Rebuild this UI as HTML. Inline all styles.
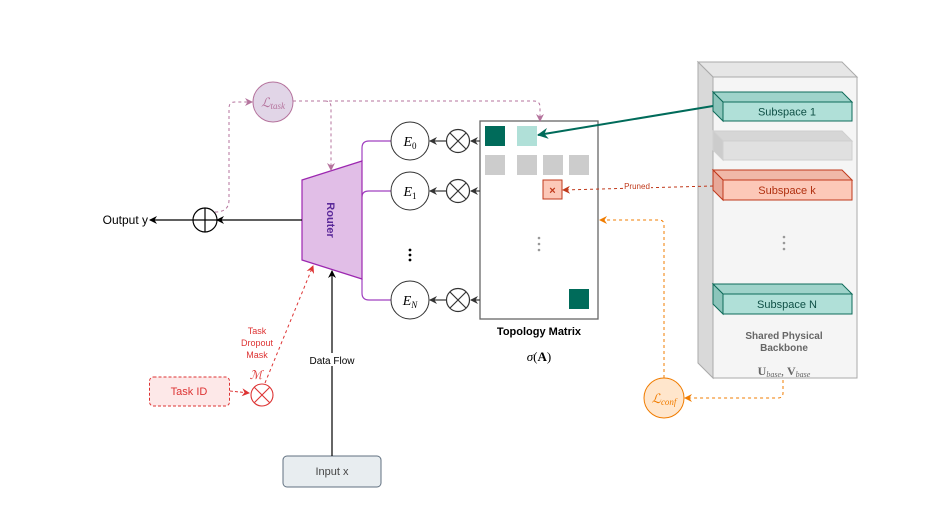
<!DOCTYPE html>
<html><head><meta charset="utf-8"><style>
html,body{margin:0;padding:0;background:#fff;}
svg{display:block;font-family:"Liberation Sans",sans-serif;}
.m{font-family:"Liberation Serif",serif;font-style:italic;}
</style></head><body>
<svg width="947" height="526" viewBox="0 0 947 526" xmlns="http://www.w3.org/2000/svg">
<defs>
<marker id="ak" markerWidth="8" markerHeight="8" refX="7" refY="4" orient="auto" markerUnits="userSpaceOnUse"><path d="M0,0 L8,4 L0,8 L2.5,4z" fill="#000"/></marker>
<marker id="ag" markerWidth="8" markerHeight="8" refX="7" refY="4" orient="auto" markerUnits="userSpaceOnUse"><path d="M0,0 L8,4 L0,8 L2.5,4z" fill="#333"/></marker>
<marker id="ap" markerWidth="8" markerHeight="8" refX="7" refY="4" orient="auto" markerUnits="userSpaceOnUse"><path d="M0,0 L8,4 L0,8 L2.5,4z" fill="#b5739d"/></marker>
<marker id="at" markerWidth="11" markerHeight="11" refX="10" refY="5.5" orient="auto" markerUnits="userSpaceOnUse"><path d="M0,0 L11,5.5 L0,11 L3.5,5.5z" fill="#006b5a"/></marker>
<marker id="ar" markerWidth="8" markerHeight="8" refX="7" refY="4" orient="auto" markerUnits="userSpaceOnUse"><path d="M0,0 L8,4 L0,8 L2.5,4z" fill="#c0391b"/></marker>
<marker id="ar2" markerWidth="8" markerHeight="8" refX="7" refY="4" orient="auto" markerUnits="userSpaceOnUse"><path d="M0,0 L8,4 L0,8 L2.5,4z" fill="#d33"/></marker>
<marker id="ao" markerWidth="8" markerHeight="8" refX="7" refY="4" orient="auto" markerUnits="userSpaceOnUse"><path d="M0,0 L8,4 L0,8 L2.5,4z" fill="#f07c00"/></marker>
</defs>

<!-- Backbone -->
<polygon points="698,62 842,62 857,77 713,77" fill="#e6e6e6" stroke="#aaa"/>
<polygon points="698,62 713,77 713,378 698,363" fill="#d9d9d9" stroke="#aaa"/>
<rect x="713" y="77" width="144" height="301" fill="#f5f5f5" stroke="#aaa"/>
<!-- subspaces -->
<g stroke="#0e6b5a">
<polygon points="713,92 842,92 852,102 723,102" fill="#9fd3ca"/>
<polygon points="713,92 723,102 723,121 713,111" fill="#8cc5bb"/>
<rect x="723" y="102" width="129" height="19" fill="#b0e0d8"/>
</g>
<text x="787" y="115.5" font-size="11" text-anchor="middle" fill="#0e4f45">Subspace 1</text>
<g stroke="#cfcfcf">
<polygon points="713,131 842,131 852,141 723,141" fill="#d6d6d6"/>
<polygon points="713,131 723,141 723,160 713,150" fill="#cccccc"/>
<rect x="723" y="141" width="129" height="19" fill="#e0e0e0"/>
</g>
<g stroke="#c0391b">
<polygon points="713,170 842,170 852,180 723,180" fill="#f0b8a8"/>
<polygon points="713,170 723,180 723,200 713,190" fill="#e8a898"/>
<rect x="723" y="180" width="129" height="20" fill="#fcc8b8"/>
</g>
<text x="787" y="194" font-size="11" text-anchor="middle" fill="#b03010">Subspace k</text>
<g fill="#999"><circle cx="784" cy="237" r="1.3"/><circle cx="784" cy="243" r="1.3"/><circle cx="784" cy="249" r="1.3"/></g>
<g stroke="#0e6b5a">
<polygon points="713,284 842,284 852,294 723,294" fill="#9fd3ca"/>
<polygon points="713,284 723,294 723,314 713,304" fill="#8cc5bb"/>
<rect x="723" y="294" width="129" height="20" fill="#b0e0d8"/>
</g>
<text x="787" y="308" font-size="11" text-anchor="middle" fill="#0e4f45">Subspace N</text>
<text x="784" y="339" font-size="10" font-weight="bold" text-anchor="middle" fill="#666">Shared Physical</text>
<text x="784" y="351" font-size="10" font-weight="bold" text-anchor="middle" fill="#666">Backbone</text>
<text x="784" y="375" font-size="12" text-anchor="middle" fill="#666" font-family="Liberation Serif,serif"><tspan font-weight="bold">U</tspan><tspan class="m" font-size="8" dy="2">base</tspan><tspan dy="-2">, </tspan><tspan font-weight="bold">V</tspan><tspan class="m" font-size="8" dy="2">base</tspan></text>

<!-- Topology matrix -->
<rect x="480" y="121" width="118" height="198" fill="#fff" stroke="#666" stroke-width="1.3"/>
<rect x="485" y="126" width="20" height="20" fill="#006b5a"/>
<rect x="517" y="126" width="20" height="20" fill="#b0e0d8"/>
<g fill="#cccccc">
<rect x="485" y="155" width="20" height="20"/><rect x="517" y="155" width="20" height="20"/>
<rect x="543" y="155" width="20" height="20"/><rect x="569" y="155" width="20" height="20"/></g>
<rect x="543" y="180" width="19" height="19" fill="#fcc8b8" stroke="#c0391b"/>
<text x="552.5" y="194" font-size="11" font-weight="bold" text-anchor="middle" fill="#c0391b">×</text>
<g fill="#999"><circle cx="539" cy="238" r="1.3"/><circle cx="539" cy="244" r="1.3"/><circle cx="539" cy="250" r="1.3"/></g>
<rect x="569" y="289" width="20" height="20" fill="#006b5a"/>
<text x="539" y="335" font-size="11" font-weight="bold" text-anchor="middle">Topology Matrix</text>
<text x="539" y="361" font-size="13" text-anchor="middle" font-family="Liberation Serif,serif"><tspan font-style="italic">σ</tspan>(<tspan font-weight="bold">A</tspan>)</text>

<!-- teal arrow -->
<line x1="713" y1="106" x2="538" y2="135" stroke="#006b5a" stroke-width="2" marker-end="url(#at)"/>
<!-- pruned -->
<line x1="713" y1="186" x2="563" y2="190" stroke="#c0391b" stroke-dasharray="3,3" marker-end="url(#ar)"/>
<rect x="623" y="181" width="28" height="9" fill="#fff"/>
<text x="637" y="189" font-size="8" text-anchor="middle" fill="#c0391b">Pruned</text>

<!-- Lconf -->
<path d="M664,378 V225 Q664,220 659,220 H600" fill="none" stroke="#f07c00" stroke-dasharray="3,3" marker-end="url(#ao)"/>
<path d="M783,380 V393 Q783,398 778,398 H685" fill="none" stroke="#f07c00" stroke-dasharray="3,3" marker-end="url(#ao)"/>
<circle cx="664" cy="398" r="20" fill="#ffe6cc" stroke="#f07c00"/>
<text x="664" y="403" font-size="13" text-anchor="middle" fill="#f07c00" class="m">ℒ<tspan font-size="9" dy="2">conf</tspan></text>

<!-- Experts -->
<g fill="none" stroke="#a040c0" stroke-width="1.2">
<path d="M362,161 V148 Q362,141 369,141 H391"/>
<path d="M362,197 Q362,191 369,191 H391"/>
<path d="M362,279 V293 Q362,300 369,300 H391"/>
</g>
<g fill="#fff" stroke="#333">
<circle cx="410" cy="141" r="19"/><circle cx="410" cy="191" r="19"/><circle cx="410" cy="300" r="19"/>
</g>
<text x="410" y="146" font-size="14" text-anchor="middle" class="m">E<tspan font-size="9" dy="3" font-style="normal">0</tspan></text>
<text x="410" y="196" font-size="14" text-anchor="middle" class="m">E<tspan font-size="9" dy="3" font-style="normal">1</tspan></text>
<text x="410" y="305" font-size="14" text-anchor="middle" class="m">E<tspan font-size="9" dy="3">N</tspan></text>
<g fill="#000"><circle cx="410" cy="250" r="1.4"/><circle cx="410" cy="255" r="1.4"/><circle cx="410" cy="260" r="1.4"/></g>
<g stroke="#333" stroke-width="1.2" fill="#fff">
<g><circle cx="458" cy="141" r="11.5"/><path d="M450,133 L466,149 M466,133 L450,149"/></g>
<g><circle cx="458" cy="191" r="11.5"/><path d="M450,183 L466,199 M466,183 L450,199"/></g>
<g><circle cx="458" cy="300" r="11.5"/><path d="M450,292 L466,308 M466,292 L450,308"/></g>
</g>
<g stroke="#333" stroke-width="1.2">
<line x1="480" y1="141" x2="471" y2="141" marker-end="url(#ag)"/>
<line x1="480" y1="191" x2="471" y2="191" marker-end="url(#ag)"/>
<line x1="480" y1="300" x2="471" y2="300" marker-end="url(#ag)"/>
<line x1="446" y1="141" x2="430" y2="141" marker-end="url(#ag)"/>
<line x1="446" y1="191" x2="430" y2="191" marker-end="url(#ag)"/>
<line x1="446" y1="300" x2="430" y2="300" marker-end="url(#ag)"/>
</g>

<!-- Router -->
<polygon points="302,180 362,161 362,279 302,260" fill="#e1bee7" stroke="#9c27b0" stroke-width="1.2"/>
<text x="0" y="0" font-size="11" font-weight="bold" fill="#5b2a9a" text-anchor="middle" transform="translate(327,220) rotate(90)">Router</text>

<!-- Ltask -->
<circle cx="273" cy="102" r="20" fill="#e1d5e7" stroke="#b5739d"/>
<text x="273" y="107" font-size="13" text-anchor="middle" fill="#b5739d" class="m">ℒ<tspan font-size="9" dy="2">task</tspan></text>
<g fill="none" stroke="#b5739d" stroke-dasharray="3,3">
<path d="M215,212 Q229,212 229,200 V108 Q229,102 235,102 H252" marker-end="url(#ap)"/>
<path d="M293,101 H534 Q540,101 540,107 V121" marker-end="url(#ap)"/>
<path d="M325,101 Q331,101 331,107 V170" marker-end="url(#ap)"/>
</g>

<!-- Output -->
<line x1="302" y1="220" x2="217" y2="220" stroke="#000" stroke-width="1.2" marker-end="url(#ak)"/>
<circle cx="205" cy="220" r="12" fill="#fff" stroke="#000" stroke-width="1.2"/>
<path d="M193,220 H217 M205,208 V232" stroke="#000" stroke-width="1.2"/>
<line x1="193" y1="220" x2="150" y2="220" stroke="#000" stroke-width="1.2" marker-end="url(#ak)"/>
<text x="148" y="224" font-size="12" text-anchor="end">Output y</text>

<!-- Input -->
<rect x="283" y="456" width="98" height="31" rx="4" fill="#e8edf0" stroke="#607080"/>
<text x="332" y="475" font-size="11" text-anchor="middle" fill="#444">Input x</text>
<line x1="332" y1="456" x2="332" y2="271" stroke="#000" stroke-width="1.2" marker-end="url(#ak)"/>
<rect x="305" y="353" width="54" height="13" fill="#fff"/>
<text x="332" y="364" font-size="10" text-anchor="middle">Data Flow</text>

<!-- Task ID -->
<rect x="149.5" y="377" width="80" height="29" rx="4" fill="#fde8e8" stroke="#d33" stroke-dasharray="3,2"/>
<text x="189" y="395" font-size="11" text-anchor="middle" fill="#d33">Task ID</text>
<line x1="230" y1="391" x2="249" y2="393" stroke="#d33" stroke-dasharray="3,2" marker-end="url(#ar2)"/>
<g stroke="#d33" stroke-width="1.1" fill="#fff"><circle cx="262" cy="395" r="11"/><path d="M254.5,387.5 L269.5,402.5 M269.5,387.5 L254.5,402.5" fill="none"/></g>
<text x="256" y="379" font-size="12" text-anchor="middle" fill="#d33" class="m">ℳ</text>
<line x1="265" y1="383" x2="313" y2="266" stroke="#d33" stroke-dasharray="3,3" marker-end="url(#ar2)"/>
<text x="257" y="334" font-size="9" text-anchor="middle" fill="#d33">Task</text>
<text x="257" y="346" font-size="9" text-anchor="middle" fill="#d33">Dropout</text>
<text x="257" y="358" font-size="9" text-anchor="middle" fill="#d33">Mask</text>
</svg>
</body></html>
